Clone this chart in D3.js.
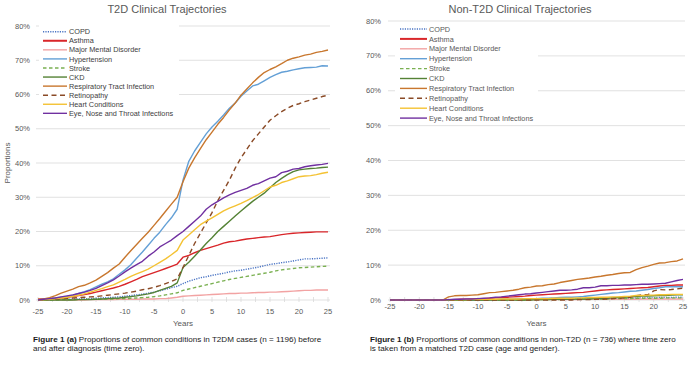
<!DOCTYPE html>
<html>
<head>
<meta charset="utf-8">
<title>T2D Clinical Trajectories</title>
<script src="https://cdn.jsdelivr.net/npm/d3@7"></script>
<style>
  body { margin: 0; background: #fff; }
  svg text { font-family: 'Liberation Sans', Arial, sans-serif; }
  .grid { stroke: #d9d9d9; stroke-width: 0.8px; }
  .axis_line { stroke: #d9d9d9; stroke-width: 0.8px; }
  .ticklab { font-size: 7.5px; fill: #595959; }
  .title { font-size: 11px; fill: #595959; text-anchor: middle; }
  .axis_title { font-size: 8px; fill: #595959; text-anchor: middle; }
  .legend_text { font-size: 7.3px; fill: #404040; }
  .caption { font-size: 8.1px; fill: #1a1a1a; }
  .series { fill: none; stroke-width: 1.4px; stroke-linejoin: round; }
</style>
</head>
<body>
<script>

// x categories (years relative to diagnosis)
var years = [-25,-24,-23,-22,-21,-20,-19,-18,-17,-16,-15,-14,-13,-12,-11,-10,-9,-8,-7,-6,-5,-4,-3,-2,-1,
             0,1,2,3,4,5,6,7,8,9,10,11,12,13,14,15,16,17,18,19,20,21,22,23,24,25];
var xTicks = [-25,-20,-15,-10,-5,0,5,10,15,20,25];
var yTicks = [0,10,20,30,40,50,60,70,80];

var conditions = ["COPD", "Asthma", "Major Mental Disorder", "Hypertension", "Stroke", "CKD",
                  "Respiratory Tract Infection", "Retinopathy", "Heart Conditions", "Eye, Nose and Throat Infections"];

// T2D cases, % with condition
var t2dCOPD   = [0,0,0.1,0.1,0.2,0.2,0.3,0.3,0.4,0.4,0.5,0.6,0.7,0.8,0.9,1.1,1.3,1.5,1.7,2,2.3,2.7,3.1,3.6,4,
                 4.8,5.5,6,6.5,6.8,7.2,7.5,7.8,8.2,8.5,8.7,9,9.3,9.6,10,10.4,10.6,10.9,11.1,11.4,11.7,12,12,12.1,12.2,12.3];
var t2dAsthma = [0.2,0.3,0.4,0.5,0.6,0.8,1,1.3,1.6,1.9,2.3,2.7,3.1,3.5,4,4.6,5.3,6,6.8,7.4,8,8.6,9.2,9.8,10.5,
                 12.5,13,13.8,14.5,15,15.5,16,16.6,17,17.2,17.5,17.8,18,18.2,18.4,18.5,18.8,19.1,19.3,19.5,19.6,19.7,19.8,19.9,19.9,19.9];
var t2dMental = [0,0,0,0,0,0,0,0,0,0.1,0.1,0.1,0.1,0.1,0.2,0.2,0.2,0.2,0.3,0.3,0.3,0.4,0.4,0.6,0.8,
                 1.1,1.2,1.3,1.4,1.5,1.6,1.7,1.8,1.9,1.9,2,2,2.1,2.2,2.2,2.3,2.3,2.4,2.5,2.6,2.7,2.8,2.8,2.9,2.9,2.9];
var t2dHyper  = [0,0.2,0.4,0.6,0.8,1,1.4,1.9,2.4,3,3.8,4.6,5.3,6.2,7.5,8.8,10.3,12.2,14,16,18,19.8,22,24,26.5,
                 35,40.5,43.5,46,48.5,50.5,52.2,54,56,57.5,59.5,61,62.5,63,64,65,65.8,66.5,66.8,67.2,67.5,67.8,67.9,68,68.4,68.3];
var t2dStroke = [0,0,0,0,0.1,0.1,0.1,0.1,0.2,0.2,0.2,0.3,0.3,0.3,0.4,0.4,0.5,0.6,0.7,0.8,1,1.2,1.5,1.8,2.1,
                 2.8,3.2,3.6,4,4.4,4.8,5.2,5.6,6,6.3,6.6,6.9,7.2,7.5,7.8,8.1,8.5,8.8,9,9.2,9.4,9.5,9.6,9.7,9.8,9.9];
var t2dCKD    = [0,0,0,0,0,0,0,0.1,0.1,0.1,0.2,0.3,0.4,0.5,0.6,0.8,1,1.2,1.5,1.8,2.2,2.8,3.4,4,5,
                 9.5,11,12.8,14.6,16.5,18.2,20,21.5,23,24.5,26,27.4,28.8,30,31.2,32.8,34.3,35.5,36.6,37.5,38,38.2,38.4,38.5,38.7,38.8];
var t2dResp   = [0.2,0.3,0.7,1.3,2,2.6,3.2,3.9,4.3,5,5.8,6.9,8,9.3,10.5,12.5,14.4,16.2,18,19.8,21.8,23.8,25.9,28,30,
                 34.5,38.5,41.5,44.2,46.8,49,51.3,53.3,55.5,57.5,59.8,61.6,63.4,65,66.4,67.3,68.1,69,70,70.6,71,71.5,71.8,72.3,72.6,73];
var t2dRetino = [0,0.1,0.2,0.3,0.4,0.5,0.6,0.7,0.8,0.9,1,1.2,1.4,1.6,1.8,2,2.3,2.6,3,3.3,3.7,4.2,4.8,5.4,6.2,
                 9.5,13,16.5,19.5,22.5,25.5,29,32,35,38.5,41.5,44,46.5,48.5,50.5,52.5,53.8,55,56,56.8,57.3,57.9,58.4,58.9,59.4,59.8];
var t2dHeart  = [0,0.1,0.2,0.4,0.6,0.8,1.1,1.4,1.8,2.3,2.8,3.3,3.9,4.4,5.2,6,6.9,7.6,8.3,9,10,11,12,13.2,14.5,
                 17.5,19,20.5,22,23,24,25,26,26.8,27.5,28.2,29,29.9,30.8,31.9,33,33.5,34.3,34.8,35.4,36,36.2,36.3,36.6,37,37.3];
var t2dEye    = [0,0.2,0.4,0.6,0.9,1.2,1.5,1.9,2.3,2.8,3.4,4.2,5,5.9,7,8.2,9.3,10.3,11.3,12.8,14,15.5,16.5,17.5,18.8,
                 20,21.5,23,24.5,26.5,27.8,28.8,29.8,30.7,31.4,32,32.6,33.5,34,34.8,35.6,36,37.2,37.6,38.2,38.4,38.9,39.2,39.4,39.6,39.9];

// non-T2D controls, % with condition
var nonCOPD   = [0,0,0,0,0,0,0,0,0,0, 0,0,0,0,0,0.1,0.1,0.1,0.1,0.1,0.1,0.1,0.2,0.2,0.2,
                 0.2,0.2,0.2,0.3,0.3,0.3,0.3,0.3,0.4,0.4,0.4,0.4,0.4,0.5,0.5,0.5,0.5,0.5,0.6,0.6,0.6,0.7,0.7,0.7,0.8,0.8];
var nonAsthma = [0,0,0,0,0,0,0,0,0,0, 0.1,0.1,0.2,0.2,0.3,0.3,0.4,0.5,0.6,0.7,0.8,0.9,1,1.1,1.3,
                 1.4,1.5,1.6,1.7,1.8,1.9,2,2.1,2.2,2.4,2.6,2.8,2.9,3,3.1,3.2,3.3,3.4,3.5,3.6,3.8,4,4.2,4.2,4.3,4.3];
var nonMental = [0,0,0,0,0,0,0,0,0,0, 0,0,0,0,0,0,0,0,0,0,0,0,0,0,0,
                 0.1,0.1,0.1,0.1,0.1,0.1,0.1,0.1,0.2,0.2,0.2,0.2,0.2,0.2,0.2,0.2,0.2,0.2,0.3,0.3,0.3,0.3,0.3,0.3,0.3,0.3];
var nonHyper  = [0,0,0,0,0,0,0,0,0,0, 0,0,0,0,0,0.1,0.1,0.1,0.1,0.2,0.2,0.2,0.3,0.3,0.3,
                 0.4,0.5,0.5,0.6,0.7,0.8,0.8,0.9,1,1.2,1.4,1.6,1.8,2,2.1,2.3,2.5,2.6,2.8,3,3.3,3.5,3.8,3.8,3.8,3.8];
var nonStroke = [0,0,0,0,0,0,0,0,0,0, 0,0,0,0,0,0,0,0,0,0,0,0,0,0,0,
                 0.1,0.1,0.1,0.1,0.1,0.2,0.2,0.2,0.2,0.3,0.3,0.3,0.3,0.4,0.4,0.4,0.4,0.5,0.5,0.5,0.5,0.5,0.6,0.6,0.6,0.6];
var nonCKD    = [0,0,0,0,0,0,0,0,0,0, 0,0,0,0,0,0,0,0,0,0,0,0,0,0,0,
                 0.1,0.1,0.1,0.2,0.2,0.2,0.2,0.3,0.3,0.3,0.4,0.4,0.5,0.6,0.7,0.8,0.9,1,1.1,1.1,1.2,1.3,1.3,1.4,1.5,1.5];
var nonResp   = [0,0,0,0,0,0,0,0,0,0, 0.9,1.2,1.3,1.3,1.4,1.5,1.8,2.1,2.2,2.4,2.6,2.8,3.1,3.5,3.7,
                 4,4.1,4.4,4.6,5,5.3,5.6,5.9,6.1,6.3,6.6,6.8,7.1,7.3,7.6,7.8,7.9,8.7,9.3,9.7,10.2,10.6,10.7,11,11.2,11.8];
var nonRetino = [0,0,0,0,0,0,0,0,0,0, 0,0,0,0,0,0,0,0,0,0,0,0,0,0,0,
                 0,0,0,0,0,0,0,0.1,0.1,0.1,0.2,0.2,0.3,0.4,0.5,0.6,0.8,1.2,1.5,1.5,2.6,3,2.9,3,3.2,3.4];
var nonHeart  = [0,0,0,0,0,0,0,0,0,0, 0.1,0.1,0.1,0.1,0.2,0.2,0.2,0.2,0.2,0.3,0.3,0.3,0.3,0.4,0.4,
                 0.4,0.4,0.4,0.5,0.5,0.5,0.5,0.6,0.6,0.7,0.7,0.8,0.8,0.9,0.9,1,1.1,1.3,1.3,1.4,1.4,1.5,1.5,1.6,1.6,1.6];
var nonEye    = [0,0,0,0,0,0,0,0,0,0, 0.1,0.2,0.2,0.3,0.3,0.4,0.5,0.6,0.8,0.9,1.1,1.3,1.5,1.7,1.8,
                 2,2.2,2.4,2.6,2.8,2.8,2.9,3.1,3.5,3.5,3.7,4.1,4.1,4.2,4.2,4.3,4.3,4.4,4.5,4.5,4.6,4.7,4.8,5.2,5.6,5.9];

var t2dSeries = [t2dCOPD, t2dAsthma, t2dMental, t2dHyper, t2dStroke, t2dCKD, t2dResp, t2dRetino, t2dHeart, t2dEye];
var nonSeries = [nonCOPD, nonAsthma, nonMental, nonHyper, nonStroke, nonCKD, nonResp, nonRetino, nonHeart, nonEye];

// line styles, in the same order as conditions
var colors = ["#4a74c4", "#d9262a", "#f2a3a3", "#64a0d6", "#7ab051", "#548235",
              "#c8772e", "#8a4a26", "#f4c233", "#7030a0"];
var dashes = ["1.2,1.2", null, null, null, "3.5,2.5", null, null, "5,3.5", null, null];

var svg = d3.select("body").append("svg")
    .attr("width", 695)
    .attr("height", 366);

function drawChart(cfg) {
  var g = svg.append("g");

  var x = d3.scaleLinear().domain([-25, 25]).range([cfg.left, cfg.right]);
  var y = d3.scaleLinear().domain([0, 80]).range([cfg.bottom, cfg.top]);

  // gridlines
  g.selectAll(".grid")
    .data(yTicks.slice(1))
    .enter().append("line")
    .attr("class", "grid")
    .attr("x1", cfg.left - 2).attr("x2", cfg.right + 2)
    .attr("y1", function(d) { return y(d); })
    .attr("y2", function(d) { return y(d); });

  // x axis line and ticks
  g.append("line").attr("class", "axis_line")
    .attr("x1", cfg.left - 2).attr("x2", cfg.right + 2)
    .attr("y1", y(0)).attr("y2", y(0));
  var minor = [-25,-22.5,-20,-17.5,-15,-12.5,-10,-7.5,-5,-2.5,0,2.5,5,7.5,10,12.5,15,17.5,20,22.5,25];
  g.selectAll(".xtick")
    .data(minor)
    .enter().append("line")
    .attr("class", "axis_line")
    .attr("x1", function(d) { return x(d); })
    .attr("x2", function(d) { return x(d); })
    .attr("y1", y(0) - 3).attr("y2", y(0) + 2);

  g.selectAll(".xlab")
    .data(xTicks)
    .enter().append("text")
    .attr("class", "ticklab")
    .attr("text-anchor", "middle")
    .attr("x", function(d) { return x(d); })
    .attr("y", y(0) + cfg.xLabOffset)
    .text(function(d) { return d; });

  g.selectAll(".ylab")
    .data(yTicks)
    .enter().append("text")
    .attr("class", "ticklab")
    .attr("text-anchor", "end")
    .attr("x", cfg.yLabX)
    .attr("y", function(d) { return y(d) + 2.6; })
    .text(function(d) { return d + "%"; });

  // legend box hides gridlines behind it
  g.append("rect")
    .attr("x", cfg.legend.x0).attr("y", cfg.legend.y0)
    .attr("width", cfg.legend.w).attr("height", cfg.legend.h)
    .attr("fill", "#fff");

  // series lines
  var line = d3.line()
    .x(function(d, i) { return x(years[i]); })
    .y(function(d) { return y(d); });

  g.selectAll(".series")
    .data(cfg.series)
    .enter().append("path")
    .attr("class", "series")
    .attr("d", line)
    .style("stroke", function(d, i) { return colors[i]; })
    .style("stroke-dasharray", function(d, i) { return dashes[i]; });

  // legend entries
  var leg = g.selectAll(".legend")
    .data(conditions)
    .enter().append("g")
    .attr("transform", function(d, i) {
      return "translate(0," + (cfg.legend.rowY + i * cfg.legend.step) + ")";
    });
  leg.append("line")
    .attr("class", "series")
    .attr("x1", cfg.legend.lineX).attr("x2", cfg.legend.lineX + cfg.legend.lineW)
    .attr("y1", 0).attr("y2", 0)
    .style("stroke", function(d, i) { return colors[i]; })
    .style("stroke-dasharray", function(d, i) { return dashes[i]; })
    .style("stroke-width", function(d, i) { return i == 1 ? 2 : 1.4; });
  leg.append("text")
    .attr("class", "legend_text")
    .attr("x", cfg.legend.lineX + cfg.legend.lineW + 2)
    .attr("y", 2.6)
    .style("fill", cfg.legendFill)
    .text(function(d) { return d; });

  // titles
  g.append("text").attr("class", "title")
    .attr("x", cfg.titleX).attr("y", 13)
    .text(cfg.title);
  g.append("text").attr("class", "axis_title")
    .attr("x", x(0)).attr("y", cfg.yearsY)
    .text("Years");
  if (cfg.propX) {
    g.append("text").attr("class", "axis_title")
      .attr("transform", "translate(" + cfg.propX + "," + (y(40)) + ") rotate(-90)")
      .text("Proportions");
  }

  // caption
  var cap = g.append("text").attr("class", "caption")
    .attr("x", cfg.capX).attr("y", cfg.capY);
  cap.append("tspan").style("font-weight", "bold").text(cfg.capBold);
  cap.append("tspan").text(cfg.cap1);
  g.append("text").attr("class", "caption")
    .attr("x", cfg.capX).attr("y", cfg.capY + 8.8)
    .text(cfg.cap2);
}

drawChart({
  series: t2dSeries,
  left: 38, right: 328, bottom: 300, top: 26,
  yLabX: 30, xLabOffset: 13.5, yearsY: 326, propX: 10,
  title: "T2D Clinical Trajectories", titleX: 167,
  legend: { x0: 39, y0: 24, w: 140, h: 96, rowY: 31.7, step: 9.07, lineX: 43, lineW: 24 },
  legendFill: "#404040",
  capX: 33, capY: 342,
  capBold: "Figure 1 (a)",
  cap1: " Proportions of  common conditions in T2DM cases (n = 1196) before",
  cap2: "and after diagnosis (time zero)."
});

drawChart({
  series: nonSeries,
  left: 390, right: 683, bottom: 300, top: 21,
  yLabX: 381, xLabOffset: 9, yearsY: 326, propX: null,
  title: "Non-T2D Clinical Trajectories", titleX: 520,
  legend: { x0: 395, y0: 23, w: 143, h: 100, rowY: 29, step: 9.9, lineX: 400, lineW: 27 },
  legendFill: "#595959",
  capX: 370, capY: 342,
  capBold: "Figure 1 (b)",
  cap1: " Proportions of common conditions in non-T2D (n = 736) where time zero",
  cap2: "is taken from a matched T2D case (age and gender)."
});

</script>
</body>
</html>
